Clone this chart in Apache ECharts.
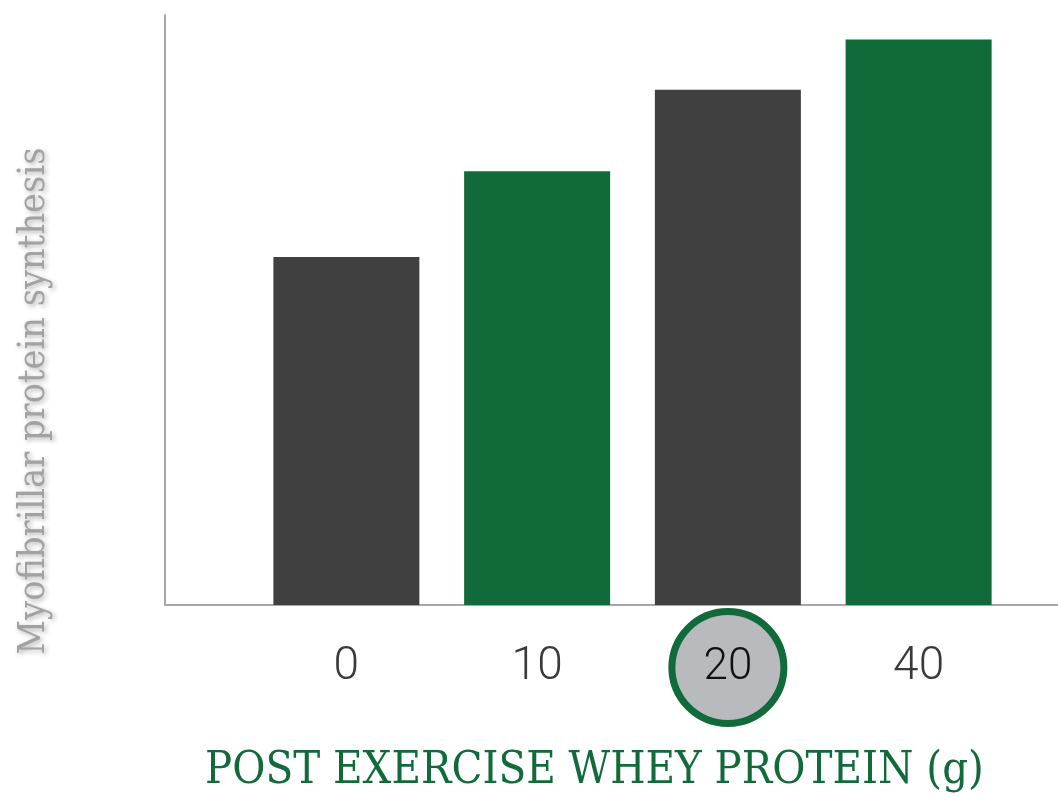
<!DOCTYPE html>
<html>
<head>
<meta charset="utf-8">
<script src="https://cdn.jsdelivr.net/npm/echarts@6/dist/echarts.min.js"></script>
<style>
  html, body { margin: 0; padding: 0; background: #ffffff; }
  #chart { width: 1058px; height: 797px; }
</style>
</head>
<body>
<div id="chart"></div>
<script>
// Whey protein dose (g) after exercise
const doses = ['0', '10', '20', '40'];
// Myofibrillar protein synthesis rate (%/h)
const synthesis = [0.0354, 0.0441, 0.0524, 0.0575];
const barColors = ['#404040', '#116a3a', '#404040', '#116a3a'];
const highlightDose = '20';

const yTitle = 'Myofibrillar protein synthesis';
const xTitle = 'POST EXERCISE WHEY PROTEIN (g)';

const green = '#116a3a';
const axisGrey = '#a8a8a8';

const chart = echarts.init(document.getElementById('chart'), null, { renderer: 'canvas' });

const option = {
  backgroundColor: '#ffffff',
  animation: false,
  grid: [
    { left: 251, right: 44, top: 15, bottom: 192 },   // bars
    { left: 165, right: 0, top: 15, bottom: 192 }     // frame lines
  ],
  title: {
    text: xTitle,
    left: 205,
    top: 745,
    padding: 0,
    textStyle: {
      fontFamily: "'DejaVu Serif Condensed', 'DejaVu Serif', serif",
      fontWeight: 'normal',
      fontSize: 45,
      lineHeight: 52,
      color: green
    }
  },
  xAxis: [
    {
      type: 'category',
      gridIndex: 0,
      data: doses,
      axisLine: { show: false },
      axisTick: { show: false },
      axisLabel: {
        margin: 10,
        formatter: v => v === highlightDose ? '{hi|' + v + '}' : '{lo|' + v + '}',
        rich: {
          lo: {
            fontFamily: "Roboto, 'Open Sans', sans-serif",
            fontWeight: 300,
            fontSize: 46,
            color: '#3a3a3a',
            height: 105,
            lineHeight: 105,
            align: 'center'
          },
          hi: {
            fontFamily: "Roboto, 'Open Sans', sans-serif",
            fontWeight: 300,
            fontSize: 44,
            color: '#111111',
            width: 105,
            height: 105,
            lineHeight: 105,
            align: 'center',
            backgroundColor: '#b9babd',
            borderColor: green,
            borderWidth: 7,
            borderRadius: 53
          }
        }
      }
    },
    {
      type: 'category',
      gridIndex: 1,
      data: [''],
      axisLine: { show: true, lineStyle: { color: axisGrey, width: 2 } },
      axisTick: { show: false },
      axisLabel: { show: false }
    }
  ],
  yAxis: [
    {
      type: 'value',
      gridIndex: 0,
      min: 0,
      max: 0.06,
      show: false
    },
    {
      type: 'value',
      gridIndex: 1,
      min: 0,
      max: 1,
      axisLine: { show: true, lineStyle: { color: axisGrey, width: 2 } },
      axisTick: { show: false },
      axisLabel: { show: false },
      splitLine: { show: false }
    }
  ],
  graphic: [
    {
      type: 'text',
      x: 34,
      y: 401,
      rotation: Math.PI / 2,
      style: {
        text: yTitle,
        align: 'center',
        verticalAlign: 'middle',
        fontFamily: "'DejaVu Serif Condensed', 'DejaVu Serif', serif",
        fontSize: 37.5,
        fill: '#a2a2a2',
        textShadowColor: 'rgba(0,0,0,0.3)',
        textShadowBlur: 5,
        textShadowOffsetX: 2,
        textShadowOffsetY: 2
      }
    }
  ],
  series: [
    {
      type: 'bar',
      xAxisIndex: 0,
      yAxisIndex: 0,
      barWidth: 146,
      data: synthesis.map((v, i) => ({ value: v, itemStyle: { color: barColors[i] } }))
    }
  ]
};

chart.setOption(option);
</script>
</body>
</html>
